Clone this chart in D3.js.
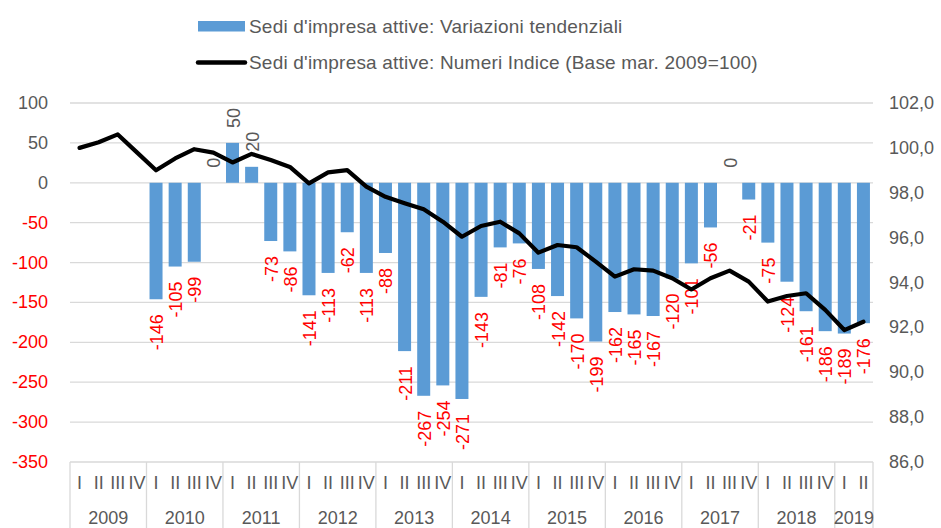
<!DOCTYPE html>
<html>
<head>
<meta charset="UTF-8">
<title>Sedi d'impresa attive</title>
<script src="https://d3js.org/d3.v7.min.js"></script>
<style>
    body { margin: 0; background: #fff; }
    svg { display: block; font-family: "Liberation Sans", Arial, sans-serif; }
</style>
</head>
<body>
<script>
    // quarters 2009 I .. 2019 II
    const years = ["2009", "2010", "2011", "2012", "2013", "2014", "2015", "2016", "2017", "2018", "2019"];
    const quarterNames = ["I", "II", "III", "IV"];
    const variazioni = [
        null, null, null, null,
        -146, -105, -99, 0,
        50, 20, -73, -86,
        -141, -113, -62, -113,
        -88, -211, -267, -254,
        -271, -143, -81, -76,
        -108, -142, -170, -199,
        -162, -165, -167, -120,
        -101, -56, 0, -21,
        -75, -124, -161, -186,
        -189, -176
    ];
    const indice = [
        100.0, 100.25, 100.6, 99.8,
        99.0, 99.53, 99.94, 99.79,
        99.35, 99.73, 99.46, 99.15,
        98.42, 98.91, 99.01, 98.27,
        97.82, 97.53, 97.26, 96.71,
        96.04, 96.52, 96.71, 96.19,
        95.33, 95.67, 95.57, 94.93,
        94.26, 94.59, 94.53, 94.19,
        93.69, 94.19, 94.53, 94.04,
        93.15, 93.40, 93.52, 92.78,
        91.88, 92.25
    ];
    const leftTicks = [100, 50, 0, -50, -100, -150, -200, -250, -300, -350];
    const rightTicks = [102, 100, 98, 96, 94, 92, 90, 88, 86];
    const legendLabels = ["Sedi d'impresa attive: Variazioni tendenziali",
                          "Sedi d'impresa attive: Numeri Indice (Base mar. 2009=100)"];

    const width = 941, height = 528;
    const mLeft = 70, mRight = 873, mTop = 103, mBottom = 462;
    const grey = "#595959", red = "#ff0000", gridCol = "#d9d9d9", blue = "#5b9bd5";

    const svg = d3.select("body").append("svg").attr("width", width).attr("height", height);

    const idx = d3.range(variazioni.length);
    const x = d3.scaleBand().domain(idx).range([mLeft, mRight]).paddingInner(0.32).paddingOuter(0.16);
    const yL = d3.scaleLinear().domain([-350, 100]).range([mBottom, mTop]);
    const yR = d3.scaleLinear().domain([86, 102]).range([mBottom, mTop]);
    const cx = i => x(i) + x.bandwidth() / 2;
    const step = x.step();

    // gridlines
    svg.append("g").selectAll("line").data(leftTicks.filter(d => d > -350)).join("line")
        .attr("x1", mLeft).attr("x2", mRight)
        .attr("y1", d => yL(d)).attr("y2", d => yL(d))
        .attr("stroke", gridCol).attr("stroke-width", 1.3);

    // left axis labels
    svg.append("g").selectAll("text").data(leftTicks).join("text")
        .attr("x", 48).attr("y", d => yL(d))
        .attr("text-anchor", "end").attr("dominant-baseline", "central")
        .attr("font-size", 18).attr("fill", d => d < 0 ? red : grey)
        .text(d => d);

    // right axis labels
    const fmt = d => d3.format(".1f")(d).replace(".", ",");
    svg.append("g").selectAll("text").data(rightTicks).join("text")
        .attr("x", 889).attr("y", d => yR(d))
        .attr("dominant-baseline", "central")
        .attr("font-size", 18).attr("fill", grey)
        .text(fmt);

    // x axis: baseline, year separators, quarter and year labels
    const xa = svg.append("g");
    xa.append("line").attr("x1", mLeft).attr("x2", mRight).attr("y1", mBottom).attr("y2", mBottom)
        .attr("stroke", gridCol).attr("stroke-width", 1.3);
    const bounds = years.map((y, k) => mLeft + k * 4 * step);
    bounds.push(mRight);
    xa.selectAll("line.sep").data(bounds).join("line").attr("class", "sep")
        .attr("x1", d => d).attr("x2", d => d).attr("y1", mBottom).attr("y2", height)
        .attr("stroke", gridCol).attr("stroke-width", 1.3);
    xa.selectAll("text.q").data(idx).join("text").attr("class", "q")
        .attr("x", cx).attr("y", 483)
        .attr("text-anchor", "middle").attr("dominant-baseline", "central")
        .attr("font-size", 18).attr("fill", grey)
        .text(i => quarterNames[i % 4]);
    xa.selectAll("text.y").data(years).join("text").attr("class", "y")
        .attr("x", (d, k) => (bounds[k] + bounds[k + 1]) / 2).attr("y", 518)
        .attr("text-anchor", "middle").attr("dominant-baseline", "central")
        .attr("font-size", 18).attr("fill", grey)
        .text(d => d);

    // bars
    const withVal = idx.filter(i => variazioni[i] !== null);
    svg.append("g").selectAll("rect").data(withVal).join("rect")
        .attr("x", i => x(i)).attr("width", x.bandwidth())
        .attr("y", i => Math.min(yL(0), yL(variazioni[i])))
        .attr("height", i => Math.abs(yL(variazioni[i]) - yL(0)))
        .attr("fill", blue);

    // data labels (rotated)
    svg.append("g").selectAll("text").data(withVal).join("text")
        .attr("transform", i => {
            const v = variazioni[i];
            const yy = v < 0 ? yL(v) + 15 : yL(v) - 15;
            return `translate(${cx(i) + 1},${yy}) rotate(-90)`;
        })
        .attr("text-anchor", i => variazioni[i] < 0 ? "end" : "start")
        .attr("dominant-baseline", "central")
        .attr("font-size", 18)
        .attr("fill", i => variazioni[i] < 0 ? red : grey)
        .text(i => variazioni[i]);

    // index line
    const line = d3.line().x((d, i) => cx(i)).y(d => yR(d));
    svg.append("path").datum(indice)
        .attr("d", line).attr("fill", "none")
        .attr("stroke", "#000").attr("stroke-width", 4.2)
        .attr("stroke-linejoin", "round").attr("stroke-linecap", "round");

    // legend
    const lg = svg.append("g");
    lg.append("rect").attr("x", 198).attr("y", 21).attr("width", 47).attr("height", 10.5).attr("fill", blue);
    lg.append("line").attr("x1", 198).attr("x2", 245).attr("y1", 62.5).attr("y2", 62.5)
        .attr("stroke", "#000").attr("stroke-width", 4.5).attr("stroke-linecap", "round");
    lg.selectAll("text").data(legendLabels).join("text")
        .attr("x", 249).attr("y", (d, k) => k === 0 ? 26.5 : 62.5)
        .attr("dominant-baseline", "central")
        .attr("font-size", 19).attr("letter-spacing", 0.2).attr("fill", grey)
        .text(d => d);
</script>
</body>
</html>
